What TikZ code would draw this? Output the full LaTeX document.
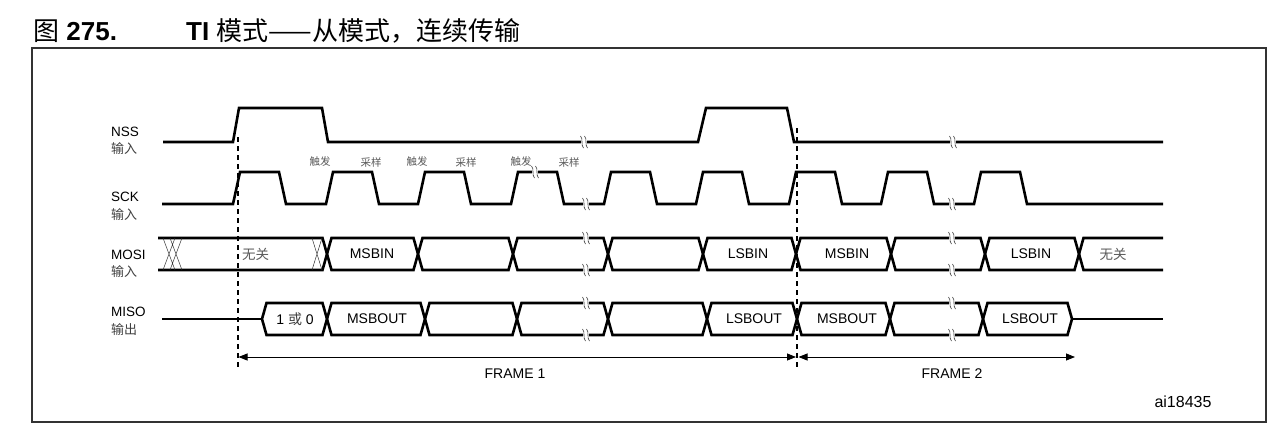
\documentclass[tikz,border=0pt]{standalone}
\usepackage{fontspec}
\setmainfont{Liberation Sans}
\newfontfamily\cjk{Noto Sans CJK SC}
\usetikzlibrary{arrows.meta}
\newcommand{\hexseg}[5]{%
  \draw[wave] (#1,#5) -- ({#1+4.5},#3) -- ({#2-4.5},#3) -- (#2,#5) -- ({#2-4.5},#4) -- ({#1+4.5},#4) -- cycle;}
\newcommand{\wbreak}[2]{%
  \fill[white] ({#1-3},{#2-3}) rectangle ({#1+3},{#2+3});
  \draw[brkline] ({#1-3.5},{#2-6}) .. controls ({#1-0.5},{#2-3}) and ({#1-3.5},{#2+3}) .. ({#1-0.5},{#2+6});
  \draw[brkline] ({#1+0.5},{#2-6}) .. controls ({#1+3.5},{#2-3}) and ({#1+0.5},{#2+3}) .. ({#1+3.5},{#2+6});}
\begin{document}
\begin{tikzpicture}[x=1pt,y=-1pt,
  wave/.style={line width=2.6pt, line join=miter, black},
  thinx/.style={line width=0.5pt, black!80},
  brkline/.style={line width=0.6pt, black!80},
  dashline/.style={line width=1.3pt, dash pattern=on 5pt off 4pt, black},
  frarrow/.style={line width=0.8pt, {Triangle[length=9pt,width=7pt]}-{Triangle[length=9pt,width=7pt]}},
  sig/.style={anchor=west, font=\fontsize{13.5}{15}\selectfont, inner sep=0pt},
  sigcn/.style={anchor=west, font=\fontsize{13}{15}\selectfont\cjk, text=black!75, inner sep=0pt},
  bustxt/.style={font=\fontsize{14}{16}\selectfont, inner sep=0pt},
  buscn/.style={font=\fontsize{13.5}{16}\selectfont\cjk, text=black!65, inner sep=0pt},
  edgetxt/.style={font=\fontsize{10.5}{12}\selectfont\cjk, text=black!65, inner sep=0pt},
  plain/.style={font=\fontsize{14}{16}\selectfont, inner sep=0pt}]
\useasboundingbox (0,0) rectangle (1288,428);
\fill[white] (0,0) rectangle (1288,428);

% title
\node[anchor=base west, inner sep=0pt, font=\fontsize{26}{30}\selectfont] (fig) at (33,41) {{\cjk 图} \textbf{275.}};
\node[anchor=base west, inner sep=0pt, font=\fontsize{26}{30}\selectfont] (title) at (186,41) {\textbf{TI} {\cjk 模式——从模式，连续传输}};

% frame
\draw[line width=1.2pt, black!80] (32,48) rectangle (1266,422);

% signal labels
\node[sig] (lnss) at (111,132) {NSS};
\node[sigcn] (lnssc) at (111,149) {输入};
\node[sig] (lsck) at (111,197) {SCK};
\node[sigcn] (lsckc) at (111,215) {输入};
\node[sig] (lmosi) at (111,255) {MOSI};
\node[sigcn] (lmosic) at (111,272) {输入};
\node[sig] (lmiso) at (111,312) {MISO};
\node[sigcn] (lmisoc) at (111,330) {输出};

% NSS
\draw[wave] (163,142) -- (233,142) -- (239,108) -- (322,108) -- (328,142) -- (698,142) -- (706,108) -- (787,108) -- (794,142) -- (1163,142);

% SCK
\draw[wave] (162,204) foreach \r in {233,326,418,511,604,696,789,881,974} { -- (\r,204) -- (\r+7,172) -- (\r+46,172) -- (\r+53,204) } -- (1163,204);

% edge labels
\node[edgetxt] (t1) at (320,162) {触发};
\node[edgetxt] (s1) at (371,162) {采样};
\node[edgetxt] (t2) at (417,162) {触发};
\node[edgetxt] (s2) at (466,162) {采样};
\node[edgetxt] (t3) at (521,162) {触发};
\node[edgetxt] (s3) at (569,162) {采样};

% MOSI
\draw[wave] (158,238) -- (322.5,238) -- (327,254) -- (322.5,270) -- (158,270);
\draw[thinx] (163,238) -- (175,270) (175,238) -- (163,270) (170,238) -- (182,270) (182,238) -- (170,270);
\draw[thinx] (312,238) -- (322,270) (322,238) -- (312,270);
\hexseg{327}{418}{238}{270}{254}
\hexseg{418}{513}{238}{270}{254}
\hexseg{513}{608}{238}{270}{254}
\hexseg{608}{703}{238}{270}{254}
\hexseg{703}{796}{238}{270}{254}
\hexseg{796}{891}{238}{270}{254}
\hexseg{891}{985}{238}{270}{254}
\hexseg{985}{1079}{238}{270}{254}
\draw[wave] (1163,238) -- (1083.5,238) -- (1079,254) -- (1083.5,270) -- (1163,270);
\node[buscn, anchor=west] (mo0) at (242,254) {无关};
\node[bustxt] (mo1) at (372,254) {MSBIN};
\node[bustxt] (mo2) at (748,254) {LSBIN};
\node[bustxt] (mo3) at (847,254) {MSBIN};
\node[bustxt] (mo4) at (1031,254) {LSBIN};
\node[buscn] (mo5) at (1113,254) {无关};

% MISO
\draw[wave] (162,319) -- (262,319);
\hexseg{262}{327}{303}{335}{319}
\hexseg{327}{425}{303}{335}{319}
\hexseg{425}{517}{303}{335}{319}
\hexseg{517}{608}{303}{335}{319}
\hexseg{608}{707}{303}{335}{319}
\hexseg{707}{797}{303}{335}{319}
\hexseg{797}{890}{303}{335}{319}
\hexseg{890}{983}{303}{335}{319}
\hexseg{983}{1072}{303}{335}{319}
\draw[wave] (1072,319) -- (1163,319);
\node[bustxt] (mi0) at (295,319) {1 {\cjk\color{black!75}或} 0};
\node[bustxt] (mi1) at (377,319) {MSBOUT};
\node[bustxt] (mi2) at (754,319) {LSBOUT};
\node[bustxt] (mi3) at (847,319) {MSBOUT};
\node[bustxt] (mi4) at (1030,319) {LSBOUT};

% breaks
\wbreak{584}{142}
\wbreak{953}{142}
\wbreak{535}{172}
\wbreak{586}{204}
\wbreak{952}{204}
\wbreak{586}{238}
\wbreak{586}{270}
\wbreak{952}{238}
\wbreak{952}{270}
\wbreak{586}{303}
\wbreak{586}{335}
\wbreak{952}{303}
\wbreak{952}{335}

% dashed markers
\coordinate (d1a) at (238,137);
\coordinate (d1b) at (238,367);
\coordinate (d2a) at (797,128);
\coordinate (d2b) at (797,367);
\draw[dashline] (d1a) -- (d1b);
\draw[dashline] (d2a) -- (d2b);

% frame arrows
\coordinate (f1a) at (238.5,357);
\coordinate (f1b) at (796,357);
\coordinate (f2a) at (798.5,357);
\coordinate (f2b) at (1075,357);
\draw[frarrow] (f1a) -- (f1b);
\draw[frarrow] (f2a) -- (f2b);
\node[plain] (fr1) at (515,374) {FRAME 1};
\node[plain] (fr2) at (952,374) {FRAME 2};
\node[font=\fontsize{16}{18}\selectfont, inner sep=0pt] (code) at (1183,402) {ai18435};
\end{tikzpicture}
\end{document}
